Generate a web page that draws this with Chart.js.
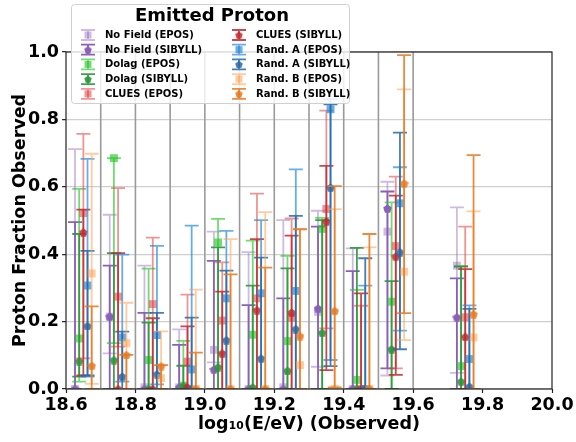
<!DOCTYPE html>
<html>
<head>
<meta charset="utf-8">
<script src="https://cdn.jsdelivr.net/npm/chart.js@4.4.0/dist/chart.umd.min.js"></script>
<style>
  html, body { margin: 0; padding: 0; background: #fff; }
  #wrap { width: 576px; height: 442px; }
</style>
</head>
<body>
<div id="wrap"><canvas id="chart" width="576" height="442"></canvas></div>
<script>
// bin centres in log10(E/eV) and the bin edge lines
const binCenters = [18.65, 18.75, 18.85, 18.95, 19.05, 19.15, 19.25, 19.35, 19.45, 19.55, 19.75];
const binEdges = [18.7, 18.8, 18.9, 19.0, 19.1, 19.2, 19.3, 19.4, 19.5, 19.6];
const yTicks = [0, 0.2, 0.4, 0.6, 0.8, 1.0];

const seriesLabels = [
  "No Field (EPOS)", "No Field (SIBYLL)",
  "Dolag (EPOS)", "Dolag (SIBYLL)",
  "CLUES (EPOS)", "CLUES (SIBYLL)",
  "Rand. A (EPOS)", "Rand. A (SIBYLL)",
  "Rand. B (EPOS)", "Rand. B (SIBYLL)",
];

// proton fraction per series (rows follow seriesLabels)
const fracValues = [
  [0.000, 0.215, 0.005, 0.005, 0.116, 0.000, 0.005, 0.229, 0.000, 0.467, 0.366],
  [0.000, 0.215, 0.000, 0.005, 0.058, 0.000, 0.000, 0.239, 0.000, 0.536, 0.213],
  [0.150, 0.685, 0.086, 0.010, 0.435, 0.161, 0.142, 0.475, 0.027, 0.259, 0.068],
  [0.083, 0.086, 0.000, 0.009, 0.065, 0.005, 0.054, 0.167, 0.000, 0.118, 0.022],
  [0.522, 0.274, 0.252, 0.081, 0.203, 0.269, 0.212, 0.534, 0.000, 0.424, 0.213],
  [0.465, 0.000, 0.000, 0.005, 0.106, 0.234, 0.227, 0.497, 0.000, 0.393, 0.155],
  [0.307, 0.153, 0.160, 0.058, 0.269, 0.284, 0.291, 0.830, 0.000, 0.551, 0.089],
  [0.187, 0.037, 0.044, 0.000, 0.145, 0.091, 0.178, 0.598, 0.000, 0.406, 0.007],
  [0.343, 0.136, 0.032, 0.000, 0.000, 0.000, 0.071, 0.000, 0.000, 0.348, 0.153],
  [0.069, 0.101, 0.068, 0.000, 0.000, 0.000, 0.157, 0.232, 0.000, 0.610, 0.222],
];

// upper end of each error bar
const fracUpper = [
  [0.712, 0.517, 0.366, 0.177, 0.467, 0.406, 0.501, 0.529, 0.417, 0.615, 0.539],
  [0.495, 0.366, 0.226, 0.131, 0.380, 0.249, 0.269, 0.482, 0.350, 0.586, 0.328],
  [0.594, 0.685, 0.357, 0.143, 0.505, 0.440, 0.395, 0.508, 0.294, 0.554, 0.365],
  [0.460, 0.403, 0.197, 0.069, 0.420, 0.307, 0.358, 0.501, 0.419, 0.320, 0.363],
  [0.757, 0.596, 0.449, 0.280, 0.376, 0.580, 0.506, 0.826, 0.247, 0.630, 0.482],
  [0.532, 0.403, 0.210, 0.186, 0.289, 0.445, 0.455, 0.662, 0.284, 0.574, 0.356],
  [0.683, 0.399, 0.425, 0.485, 0.469, 0.501, 0.652, 0.860, 0.307, 0.658, 0.248],
  [0.410, 0.170, 0.226, 0.212, 0.351, 0.390, 0.514, 0.845, 0.388, 0.761, 0.238],
  [0.698, 0.256, 0.171, 0.295, 0.445, 0.525, 0.475, 0.534, 0.420, 0.889, 0.527],
  [0.245, 0.101, 0.071, 0.108, 0.340, 0.360, 0.474, 0.602, 0.460, 0.991, 0.694],
];

// lower end of each error bar
const fracLower = [
  [0.000, 0.106, 0.000, 0.000, 0.079, 0.000, 0.000, 0.066, 0.000, 0.040, 0.048],
  [0.000, 0.000, 0.000, 0.000, 0.000, 0.000, 0.000, 0.000, 0.000, 0.061, 0.000],
  [0.022, 0.136, 0.000, 0.000, 0.000, 0.000, 0.000, 0.000, 0.000, 0.000, 0.000],
  [0.037, 0.000, 0.000, 0.000, 0.000, 0.000, 0.000, 0.000, 0.000, 0.000, 0.000],
  [0.091, 0.126, 0.000, 0.000, 0.000, 0.000, 0.000, 0.180, 0.000, 0.061, 0.000],
  [0.040, 0.000, 0.000, 0.000, 0.000, 0.000, 0.000, 0.056, 0.000, 0.042, 0.000],
  [0.037, 0.022, 0.014, 0.000, 0.000, 0.000, 0.000, 0.086, 0.000, 0.173, 0.000],
  [0.040, 0.000, 0.000, 0.000, 0.000, 0.000, 0.000, 0.068, 0.000, 0.118, 0.000],
  [0.015, 0.000, 0.000, 0.000, 0.000, 0.000, 0.000, 0.000, 0.000, 0.145, 0.000],
  [0.000, 0.000, 0.000, 0.000, 0.000, 0.000, 0.000, 0.005, 0.000, 0.225, 0.000],
];

// small shift inside each bin per field model
const modelOffsets = [-0.024, -0.012, 0, 0.012, 0.024];

const seriesColors = [
  "rgba(148,103,189,0.45)", "rgba(140,95,185,1)",
  "rgba(40,200,40,0.65)", "rgba(44,150,60,0.9)",
  "rgba(225,60,60,0.55)", "rgba(195,40,45,0.85)",
  "rgba(40,140,220,0.7)", "rgba(40,105,165,0.85)",
  "rgba(255,160,80,0.55)", "rgba(230,120,30,0.85)",
];

Chart.defaults.font.family = "'DejaVu Sans', sans-serif";
Chart.defaults.color = "#000";

// pentagon marker for the SIBYLL series
function pentagon(color, size) {
  const c = document.createElement("canvas");
  c.width = size; c.height = size;
  const g = c.getContext("2d");
  const r = size / 2;
  g.fillStyle = color;
  g.beginPath();
  for (let k = 0; k < 5; k++) {
    const a = -Math.PI / 2 + k * 2 * Math.PI / 5;
    const px = r + r * Math.cos(a), py = r + 0.5 + r * Math.sin(a);
    if (k === 0) g.moveTo(px, py); else g.lineTo(px, py);
  }
  g.closePath();
  g.fill();
  return c;
}

const datasets = seriesLabels.map((label, s) => {
  const isEpos = s % 2 === 0;
  const m = Math.floor(s / 2);
  return {
    label: label,
    data: binCenters.map((c, i) => ({ x: c + modelOffsets[m], y: fracValues[s][i] })),
    errLo: fracLower[s],
    errHi: fracUpper[s],
    borderColor: seriesColors[s],
    backgroundColor: seriesColors[s],
    pointStyle: isEpos ? "rect" : pentagon(seriesColors[s], 9),
    pointRadius: 5.6,
    pointBorderWidth: 0,
    clip: 0,
    order: seriesLabels.length - s,
  };
});

// error bars, drawn just before each series' markers
const errorBars = {
  id: "errorBars",
  beforeDatasetDraw(chart, args) {
    const ds = chart.data.datasets[args.index];
    const { ctx, chartArea: a, scales: { x, y } } = chart;
    ctx.save();
    ctx.beginPath();
    ctx.rect(a.left, a.top, a.right - a.left, a.bottom - a.top);
    ctx.clip();
    ctx.strokeStyle = ds.borderColor;
    ctx.lineWidth = 1.8;
    ds.data.forEach((p, i) => {
      const px = x.getPixelForValue(p.x);
      const top = y.getPixelForValue(ds.errHi[i]);
      const bot = y.getPixelForValue(ds.errLo[i]);
      ctx.beginPath();
      ctx.moveTo(px, top); ctx.lineTo(px, bot);
      ctx.moveTo(px - 7, top); ctx.lineTo(px + 7, top);
      ctx.moveTo(px - 7, bot); ctx.lineTo(px + 7, bot);
      ctx.stroke();
    });
    ctx.restore();
  },
};

// bin edge lines under the data, spines over it
const frame = {
  id: "frame",
  beforeDatasetsDraw(chart) {
    const { ctx, chartArea: a, scales: { x } } = chart;
    ctx.save();
    ctx.strokeStyle = "#9a9a9a";
    ctx.lineWidth = 1.6;
    binEdges.forEach((e) => {
      const px = x.getPixelForValue(e);
      ctx.beginPath();
      ctx.moveTo(px, a.top); ctx.lineTo(px, a.bottom);
      ctx.stroke();
    });
    ctx.restore();
  },
  afterDatasetsDraw(chart) {
    const { ctx, chartArea: a } = chart;
    ctx.save();
    ctx.strokeStyle = "#222";
    ctx.lineWidth = 1.2;
    ctx.strokeRect(a.left, a.top, a.right - a.left, a.bottom - a.top);
    ctx.restore();
  },
};

// matplotlib-like legend with a title, two columns, overlapping the top of the axes
const legendBox = {
  id: "legendBox",
  afterDraw(chart) {
    const { ctx } = chart;
    const bx = 71, by = 4, bw = 278, bh = 99;
    ctx.save();
    ctx.fillStyle = "rgba(255,255,255,0.82)";
    ctx.strokeStyle = "#d0d0d0";
    ctx.lineWidth = 1;
    ctx.beginPath();
    ctx.roundRect(bx + 0.5, by + 0.5, bw, bh, 3);
    ctx.fill();
    ctx.stroke();

    ctx.fillStyle = "#000";
    ctx.textAlign = "center";
    ctx.textBaseline = "middle";
    ctx.font = "bold 18px 'DejaVu Sans'";
    ctx.fillText("Emitted Proton", 212, 16);

    ctx.font = "bold 10px 'DejaVu Sans'";
    ctx.textAlign = "left";
    chart.data.datasets.forEach((ds, s) => {
      const col = Math.floor(s / 5), row = s % 5;
      const hx = col === 0 ? 88 : 239;
      const tx = col === 0 ? 105 : 256;
      const hy = 35 + row * 14.7;
      ctx.strokeStyle = ds.borderColor;
      ctx.lineWidth = 1.8;
      ctx.beginPath();
      ctx.moveTo(hx, hy - 5); ctx.lineTo(hx, hy + 5);
      ctx.moveTo(hx - 7, hy - 5); ctx.lineTo(hx + 7, hy - 5);
      ctx.moveTo(hx - 7, hy + 5); ctx.lineTo(hx + 7, hy + 5);
      ctx.stroke();
      if (s % 2 === 0) {
        ctx.fillStyle = ds.backgroundColor;
        ctx.fillRect(hx - 3.5, hy - 3.5, 7, 7);
      } else {
        ctx.drawImage(ds.pointStyle, hx - 4, hy - 4, 8, 8);
      }
      ctx.fillStyle = "#000";
      ctx.fillText(ds.label, tx, hy + 0.5);
    });
    ctx.restore();
  },
};

new Chart(document.getElementById("chart"), {
  type: "scatter",
  data: { datasets: datasets },
  plugins: [errorBars, frame, legendBox],
  options: {
    responsive: false,
    animation: false,
    devicePixelRatio: 1,
    layout: { padding: { left: 0, right: 24, top: 52, bottom: 0 } },
    plugins: { legend: { display: false }, tooltip: { enabled: false } },
    scales: {
      x: {
        type: "linear",
        min: 18.6,
        max: 20.0,
        afterFit: (scale) => { scale.height = 53; },
        border: { display: false },
        grid: { display: true, drawOnChartArea: false, drawTicks: true, tickLength: 4, tickColor: "#222", tickWidth: 1.2 },
        ticks: {
          stepSize: 0.2,
          padding: 2,
          maxRotation: 0,
          font: { size: 17.5, weight: "bold" },
          callback: (v) => v.toFixed(1),
        },
        title: {
          display: true,
          text: "log\u2081\u2080(E/eV) (Observed)",
          font: { size: 17.5, weight: "bold" },
          padding: { top: 0, bottom: 7 },
        },
      },
      y: {
        min: 0,
        max: 1.0,
        afterFit: (scale) => { scale.width = 66; },
        afterBuildTicks: (scale) => { scale.ticks = yTicks.map((v) => ({ value: v })); },
        border: { display: false },
        grid: { color: "#cfcfcf", lineWidth: 1.3, drawTicks: true, tickLength: 4, tickColor: "#222", tickWidth: 1.2 },
        ticks: {
          padding: 3,
          font: { size: 17.5, weight: "bold" },
          callback: (v) => v.toFixed(1),
        },
        title: {
          display: true,
          text: "Proton Fraction Observed",
          font: { size: 17.5, weight: "bold" },
          padding: { top: 10, bottom: 0 },
        },
      },
    },
  },
});
</script>
</body>
</html>
